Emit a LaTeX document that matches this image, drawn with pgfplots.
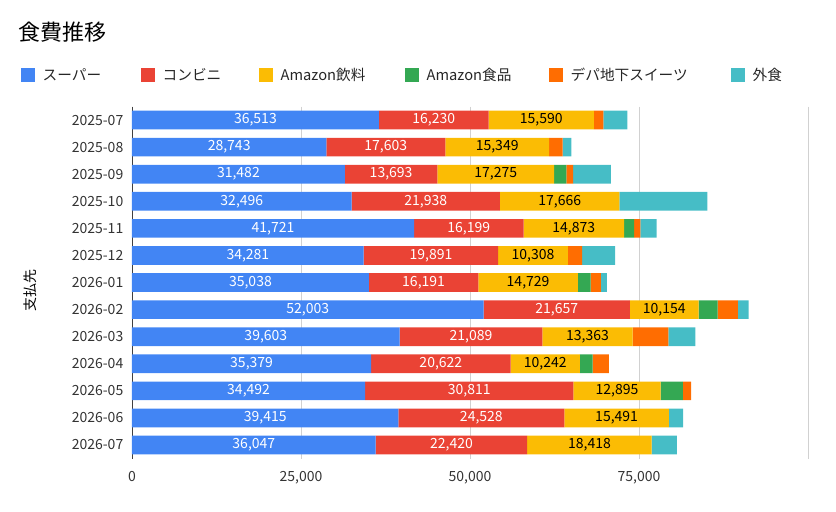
\documentclass[border=0pt]{standalone}
\usepackage{pgfplots}
\usepackage{pgfplotstable}
\pgfplotsset{compat=1.18}
\usepackage{fontspec}
\setmainfont{Noto Sans CJK JP}
\definecolor{cb}{HTML}{4285F4}
\definecolor{cr}{HTML}{EA4335}
\definecolor{cy}{HTML}{FBBC04}
\definecolor{cg}{HTML}{34A853}
\definecolor{co}{HTML}{FF6D01}
\definecolor{ct}{HTML}{46BDC6}
\pgfplotstableread{
y b r a g o t
0 36513 16230 15590 0 1400 3560
1 28743 17603 15349 0 2000 1300
2 31482 13693 17275 1800 1000 5600
3 32496 21938 17666 0 0 13000
4 41721 16199 14873 1500 900 2400
5 34281 19891 10308 0 2100 4900
6 35038 16191 14729 1900 1500 900
7 52003 21657 10154 2800 3000 1600
8 39603 21089 13363 0 5300 4000
9 35379 20622 10242 1900 2400 0
10 34492 30811 12895 3300 1200 0
11 39415 24528 15491 0 0 2100
12 36047 22420 18418 0 0 3700
}\data
\begin{document}
\begin{tikzpicture}
\useasboundingbox (0,0) rectangle (627pt,-383.25pt);
\pgfplotsset{myax/.style={
  at={(99pt,-343.9pt)}, anchor=south west, scale only axis,
  width=507pt, height=264pt, xmin=0, xmax=100000, ymin=-0.5, ymax=12.5,
  y dir=reverse,
  ytick={0,...,12},
  yticklabels={2025-07,2025-08,2025-09,2025-10,2025-11,2025-12,2026-01,2026-02,2026-03,2026-04,2026-05,2026-06,2026-07},
  xtick={0,25000,50000,75000,100000},
  xticklabels={0,{25,000},{50,000},{75,000},},
  scaled x ticks=false,
  major tick length=0pt,
  tick label style={font=\fontsize{10.5}{12}\selectfont, text=black!80},
  xticklabel style={yshift=-6pt},
  yticklabel style={xshift=-3pt},
  /pgf/number format/assume math mode=true,
}}
\begin{axis}[myax, xbar stacked, bar width=14pt,
  xmajorgrids, grid style={black!18},
  axis lines*=left, x axis line style={draw=none}, y axis line style={black!75},
  ]
\addplot[fill=cb,draw=none] table[x=b,y=y]{\data};
\addplot[fill=cr,draw=none] table[x=r,y=y]{\data};
\addplot[fill=cy,draw=none] table[x=a,y=y]{\data};
\addplot[fill=cg,draw=none] table[x=g,y=y]{\data};
\addplot[fill=co,draw=none] table[x=o,y=y]{\data};
\addplot[fill=ct,draw=none] table[x=t,y=y]{\data};
\end{axis}
\begin{axis}[myax, hide axis]
\pgfplotsset{lab/.style={only marks, mark=none, nodes near coords, point meta=explicit,
  every node near coord/.append style={anchor=center, font=\fontsize{10.5}{12}\selectfont, text=#1,
  /pgf/number format/.cd, fixed, 1000 sep={,}, assume math mode=true}}}
\addplot[lab=white] table[x expr=\thisrow{b}/2, y=y, meta=b]{\data};
\addplot[lab=white] table[x expr=\thisrow{b}+\thisrow{r}/2, y=y, meta=r]{\data};
\addplot[lab=black] table[x expr=\thisrow{b}+\thisrow{r}+\thisrow{a}/2, y=y, meta=a]{\data};
\end{axis}
\node[anchor=west,font=\fontsize{16.5}{18}\selectfont] at (10pt,-24pt) {食費推移};
\node[rotate=90,font=\fontsize{10.5}{12}\selectfont] at (22.5pt,-217.5pt) {支払先};
\foreach \xx/\cc/\tt in {28/cb/スーパー,148/cr/コンビニ,266/cy/Amazon飲料,412/cg/Amazon食品,556/co/デパ地下スイーツ,738/ct/外食}{
  \fill[\cc] ({0.75pt*\xx-5.25pt},-51pt) rectangle ({0.75pt*\xx+5.25pt},-61.5pt);
  \node[anchor=west,font=\fontsize{11}{12}\selectfont,text=black!85] at ({0.75pt*\xx+7.5pt},-56.25pt) {\tt};
}
\end{tikzpicture}
\end{document}
